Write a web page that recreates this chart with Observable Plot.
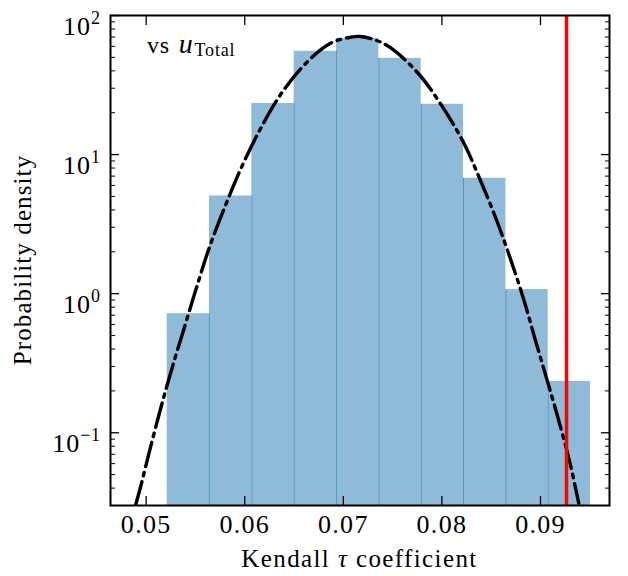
<!DOCTYPE html>
<html><head><meta charset="utf-8">
<script src="https://cdn.jsdelivr.net/npm/d3@7"></script>
<script src="https://cdn.jsdelivr.net/npm/@observablehq/plot@0.6"></script>
<style>
html,body{margin:0;padding:0;background:#fff;}
#chart{width:628px;height:576px;}
</style></head><body><div id="chart"></div>
<script>
// histogram bins (Kendall tau) and density heights
const binEdges = [0.05213, 0.05642, 0.06072, 0.06501, 0.06931, 0.07360, 0.07790, 0.08219, 0.08649, 0.09078, 0.09507];
const binDensity = [0.718, 5.04, 23.3, 55.3, 68.6, 49.2, 23.0, 6.76, 1.07, 0.234];
// fitted curve
const curveTau = [0.04891, 0.04942, 0.05044, 0.05155, 0.05270, 0.05399, 0.05517, 0.05642, 0.05804, 0.05967, 0.06159, 0.06380, 0.06649, 0.06870, 0.07072, 0.07174, 0.07427, 0.07749, 0.08003, 0.08222, 0.08391, 0.08553, 0.08695, 0.08830, 0.08949, 0.09068, 0.09185, 0.09297, 0.09388];
const curveDensity = [0.0299, 0.0406, 0.0788, 0.157, 0.305, 0.608, 1.146, 2.16, 4.31, 8.11, 15.3, 28.1, 47.5, 63.2, 69.8, 70.6, 61.9, 39.1, 22.2, 12.1, 6.51, 3.40, 1.78, 0.908, 0.461, 0.238, 0.1225, 0.0615, 0.0312];
const observedTau = 0.09264;
const xTicks = [0.05, 0.06, 0.07, 0.08, 0.09];
const xTickLabels = ["0.05", "0.06", "0.07", "0.08", "0.09"];
const yMajor = [0.1, 1, 10, 100];
const yMajorExp = ["\u22121", "0", "1", "2"];
const yMinor = [0.03,0.04,0.05,0.06,0.07,0.08,0.09,0.2,0.3,0.4,0.5,0.6,0.7,0.8,0.9,2,3,4,5,6,7,8,9,20,30,40,50,60,70,80,90];
const xDomain = [0.04638, 0.0970];
const yDomain = [0.03, 100];
const xLabelParts = ["Kendall ", "\u03c4", " coefficient"];
const yLabelText = "Probability density";
const annot = ["vs ", "u", "Total"];

const bars = binDensity.map((v, i) => ({x1: binEdges[i], x2: binEdges[i + 1], v}));
const seams = binEdges.slice(1, -1).map((e, i) => ({x: e, h: Math.min(binDensity[i], binDensity[i + 1])}));
const curve = curveTau.map((t, i) => ({t, d: curveDensity[i]}));

const FONT = "'Liberation Serif', 'DejaVu Serif', serif";
const svg = Plot.plot({
  width: 628, height: 576,
  marginLeft: 110, marginRight: 19, marginTop: 15, marginBottom: 71,
  style: {fontFamily: FONT, background: "#fff", color: "#000"},
  x: {domain: xDomain, label: null},
  y: {type: "log", domain: yDomain, label: null},
  marks: [
    Plot.rect(bars, {x1: "x1", x2: "x2", y1: () => yDomain[0], y2: "v", fill: "#1f77b4", fillOpacity: 0.5, clip: true}),
    Plot.ruleX(seams, {x: "x", y1: () => yDomain[0], y2: "h", stroke: "#1f77b4", strokeOpacity: 0.5, strokeWidth: 1}),
    Plot.line(curve, {x: "t", y: "d", curve: "catmull-rom", stroke: "#000", strokeWidth: 3.4, strokeDasharray: "25,6,3.5,6", clip: true}),
    Plot.ruleX([observedTau], {stroke: "#ff0000", strokeWidth: 3.5}),
    // labels
    Plot.axisX({ticks: xTicks, tickSize: 0, tickPadding: 9, fontSize: 26, tickFormat: d => xTickLabels[xTicks.indexOf(d)], label: null}),
    Plot.axisY({ticks: yMajor, tickSize: 0, tickPadding: 10, fontSize: 26, tickFormat: d => "10^" + yMajorExp[yMajor.indexOf(d)], label: null}),
    // inward ticks
    Plot.axisX({anchor: "bottom", ticks: xTicks, tickSize: -9, tickFormat: () => "", label: null, strokeWidth: 1.3}),
    Plot.axisX({anchor: "top", ticks: xTicks, tickSize: -9, tickFormat: () => "", label: null, strokeWidth: 1.3}),
    Plot.axisY({anchor: "left", ticks: yMajor, tickSize: -9, tickFormat: () => "", label: null, strokeWidth: 1.3}),
    Plot.axisY({anchor: "right", ticks: yMajor, tickSize: -9, tickFormat: () => "", label: null, strokeWidth: 1.3}),
    Plot.axisY({anchor: "left", ticks: yMinor, tickSize: -5, tickFormat: () => "", label: null, strokeWidth: 1}),
    Plot.axisY({anchor: "right", ticks: yMinor, tickSize: -5, tickFormat: () => "", label: null, strokeWidth: 1}),
    Plot.frame({stroke: "#000", strokeWidth: 2})
  ]
});

const s = d3.select(svg);
// x tick labels: a bit wider glyph spacing
s.selectAll('g[aria-label="x-axis tick label"] text').attr("letter-spacing", 1.3);
// superscript y tick labels
s.selectAll('g[aria-label="y-axis tick label"] text').each(function () {
  const t = d3.select(this);
  const txt = t.text();
  if (!txt.includes("^")) return;
  const [base, exp] = txt.split("^");
  t.text(null);
  t.attr("dy", null);
  t.append("tspan").attr("dy", "0.42em").attr("letter-spacing", 1).text(base);
  t.append("tspan").attr("dy", "-11").attr("font-size", "18").attr("letter-spacing", 0.5).text(exp);
});
// x label
const xl = s.append("text").attr("x", (110 + 609) / 2).attr("y", 567)
  .attr("text-anchor", "middle").attr("font-family", FONT).attr("font-size", 25)
  .attr("letter-spacing", 1.4).attr("fill", "#000");
xl.append("tspan").text(xLabelParts[0]);
xl.append("tspan").attr("font-style", "italic").text(xLabelParts[1]);
xl.append("tspan").text(xLabelParts[2]);
// y label
s.append("text").attr("transform", "translate(31,260) rotate(-90)")
  .attr("text-anchor", "middle").attr("font-family", FONT).attr("font-size", 25)
  .attr("letter-spacing", 1.1).attr("fill", "#000")
  .text(yLabelText);
// annotation
const an = s.append("text").attr("x", 147).attr("y", 53).attr("text-anchor", "start")
  .attr("font-family", FONT).attr("font-size", 24).attr("letter-spacing", 0.8).attr("fill", "#000");
an.append("tspan").text(annot[0]);
an.append("tspan").attr("font-style", "italic").attr("font-size", 28).attr("dx", 2).text(annot[1]);
an.append("tspan").attr("dx", 1).attr("dy", 3).attr("font-size", 18).text(annot[2]);

document.getElementById("chart").appendChild(svg);
</script></body></html>
